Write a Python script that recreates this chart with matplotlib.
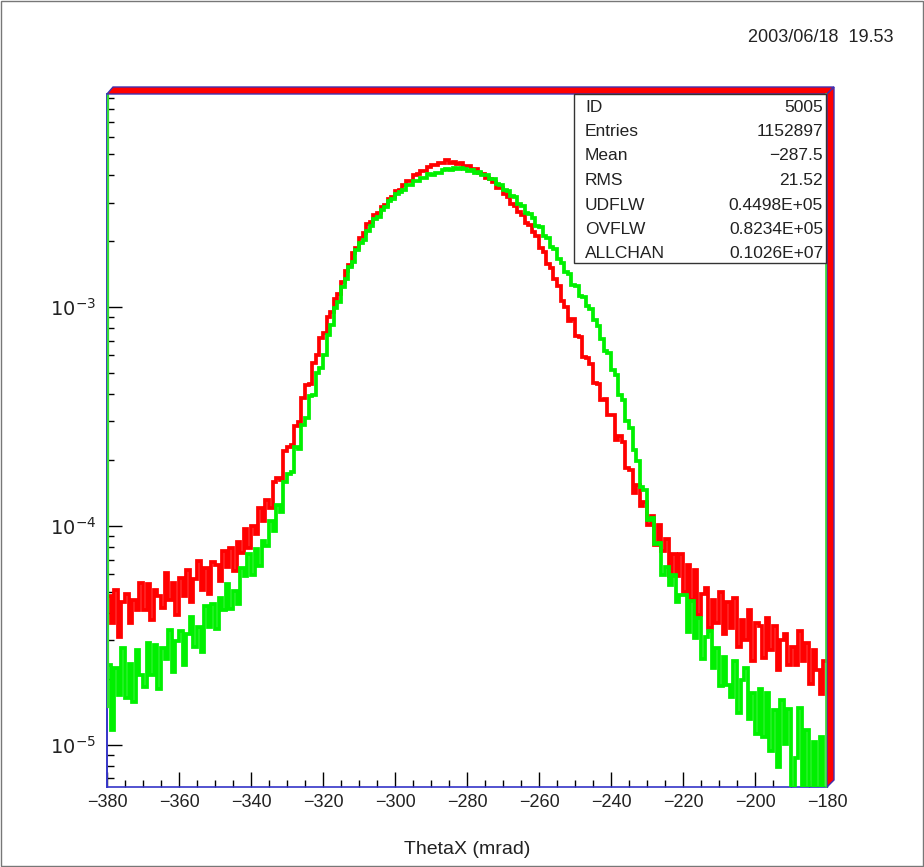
import matplotlib
matplotlib.use("Agg")
import matplotlib.pyplot as plt
from matplotlib.patches import Polygon, Rectangle
from matplotlib.ticker import FixedLocator, LogLocator, NullFormatter, FixedFormatter
import numpy as np

plt.rcParams['font.family'] = ['Liberation Sans', 'DejaVu Sans']

# ---------------- data ----------------
x_edges_start = -380
x_edges_stop = -180
bin_width = 1
scale = 1e-5   # values below are in units of 1e-5

red_vals = [4.8, 3.6, 5.1, 3.1, 4.5, 4.9, 3.6, 4.6, 4.1, 5.5,
            4.1, 5.4, 3.7, 5.1, 4.8, 4.2, 6.1, 4.6, 5.5, 3.9,
            5.8, 4.8, 6.3, 4.5, 5.7, 6.9, 5.1, 6.4, 4.9, 6.8,
            6.6, 5.6, 7.7, 6.5, 7.9, 6.2, 8.4, 7.5, 9.7, 7.9,
            10.0, 9.2, 12.0, 10.5, 13.1, 12.0, 15.8, 16.6, 16.2, 21.9,
            22.9, 23.4, 28.6, 29.9, 38.4, 43.8, 44.5, 55.5, 60.4, 72.4,
            75.7, 89.5, 94.6,
            109, 114, 130, 146, 156, 177, 185, 207, 217, 239,
            244, 264, 269, 287, 292, 313, 318, 338, 342, 362,
            375, 378, 400, 404, 419, 419, 436, 447, 443, 456, 453, 467,
            455, 462, 451, 456, 440, 441, 429, 429, 409, 405, 387, 385,
            373, 351, 348, 327, 318, 295, 289, 271, 262, 241, 236, 219,
            210, 186, 178, 157, 151, 134, 125, 107, 100,
            86.5, 88.1, 73.6, 72.6, 58.9, 58.7, 54.6, 44.7, 44.4, 37.5, 38.1, 32.2,
            32.1, 24.7, 25.8, 24.1, 18.4, 18.0, 14.1, 15.3, 12.3, 12.9, 10.1, 11.1,
            8.2, 10.1, 7.7, 8.7, 5.9, 7.4, 5.9, 7.4, 5.0,
            6.6, 4.6, 6.3, 3.9, 4.9, 5.2, 3.4, 4.6, 3.6, 5.0,
            3.2, 4.5, 3.4, 4.7, 2.8, 3.7, 3.0, 4.1, 2.4, 3.6,
            3.5, 2.5, 3.8, 2.7, 3.5, 2.2, 3.0, 3.2, 2.3, 2.8,
            2.3, 3.3, 2.4, 2.9, 1.9, 2.7, 2.2, 1.7, 2.4]

green_vals = [2.3, 1.17, 2.25, 1.68, 2.75, 1.64, 2.34, 1.57, 2.71, 2.08,
              1.84, 2.9, 2.09, 2.86, 1.8, 2.77, 2.45, 3.33, 2.15, 2.99,
              3.31, 2.31, 3.21, 3.81, 2.78, 3.45, 2.65, 4.28, 3.44, 4.41,
              3.39, 4.66, 4.14, 5.43, 4.15, 5.05, 4.4, 6.38, 5.9, 7.41,
              5.98, 7.8, 6.56, 8.55, 8.07, 10.5, 9.5, 12.4, 11.5, 15.9,
              17.3, 17.7, 22.9, 22.5, 29.0, 31.1, 39.3, 39.4, 49.9, 52.4,
              60.4, 74.3, 82.4, 99.1, 105, 123, 134, 152, 160, 183,
              195, 203, 223, 234, 253, 259, 278, 287, 305, 310, 329, 335,
              343, 359, 362, 378, 376, 388, 390, 403, 400, 411, 409, 424,
              426, 422, 432, 425, 430, 429, 417, 423, 410, 414, 401, 402,
              384, 384, 366, 362, 342, 339, 321, 317, 296, 288, 270, 265,
              255, 235, 232, 212, 206, 188, 184, 165, 158, 144,
              141, 126, 124, 112, 111, 101, 97.5, 86.9, 81.7, 71.0,
              63.0, 61.4, 51.6, 48.8, 39.5, 37.7, 30.1, 28.0, 22.2, 19.7, 15.1,
              14.5, 10.6, 10.8, 8.24, 8.36, 5.98, 6.49, 5.35, 5.93, 4.46, 4.84,
              4.84, 3.27, 4.51, 3.07, 3.79, 2.47, 3.1, 3.3, 2.23, 2.77, 1.85, 2.51, 1.88,
              1.65, 2.4, 1.39, 1.97, 2.25, 1.31, 1.72, 1.12,
              1.79, 1.08, 1.72, 0.93, 1.44, 0.79, 1.6, 1.01, 1.45, 0.63, 0.87, 1.47,
              0.62, 1.16, 0.56, 1.03, 0.49, 1.08, 0.6]

x_ticks = [-380, -360, -340, -320, -300, -280, -260, -240, -220, -200, -180]
y_ticks = [1e-5, 1e-4, 1e-3]
y_ticklabels = [r'$10^{-5}$', r'$10^{-4}$', r'$10^{-3}$']

stats_labels = ['ID', 'Entries', 'Mean', 'RMS', 'UDFLW', 'OVFLW', 'ALLCHAN']
stats_values = ['5005', '1152897', '\u2212287.5', '21.52', '0.4498E+05', '0.8234E+05', '0.1026E+07']
date_text = '2003/06/18  19.53'
xlabel_text = 'ThetaX (mrad)'

# ---------------- figure ----------------
W, H = 924, 867
fig = plt.figure(figsize=(W / 100, H / 100), dpi=100)
fig.patch.set_facecolor('white')

def fx(px):
    return px / W

def fy(py):
    return 1 - py / H

ax_l, ax_r, ax_t, ax_b = 107, 827, 94, 787
ax = fig.add_axes([fx(ax_l), fy(ax_b), fx(ax_r - ax_l), (ax_b - ax_t) / H])

edges = np.arange(x_edges_start, x_edges_stop + bin_width, bin_width)
red = np.array(red_vals) * scale
green = np.array(green_vals) * scale

ax.stairs(red, edges, baseline=None, color='#ff0000', linewidth=2.7, zorder=3)
ax.stairs(green, edges, baseline=None, color='#00f000', linewidth=2.7, zorder=4)

ax.set_yscale('log')
ax.set_xlim(-380, -180)
ax.set_ylim(6.4e-6, 9.4e-3)

ax.xaxis.set_major_locator(FixedLocator(x_ticks))
ax.xaxis.set_minor_locator(FixedLocator(np.arange(-380, -179, 5)))
ax.yaxis.set_major_locator(FixedLocator(y_ticks))
ax.yaxis.set_major_formatter(FixedFormatter(y_ticklabels))
ax.yaxis.set_minor_locator(LogLocator(base=10, subs=np.arange(2, 10), numticks=20))
ax.yaxis.set_minor_formatter(NullFormatter())

ax.tick_params(axis='x', which='major', direction='in', length=11, width=1.0,
               labelsize=13, pad=5, colors='black', labelcolor='#222222',
               top=False)
ax.tick_params(axis='x', which='minor', direction='in', length=5, width=1.0,
               top=False)
ax.tick_params(axis='y', which='major', direction='in', length=11, width=1.0,
               labelsize=14, pad=8, labelcolor='#222222', right=False)
ax.tick_params(axis='y', which='minor', direction='in', length=5, width=1.0,
               right=False)

ax.spines['left'].set_color('#3535c8')
ax.spines['left'].set_linewidth(1.4)
ax.spines['bottom'].set_color('#3535c8')
ax.spines['bottom'].set_linewidth(1.2)
ax.spines['top'].set_visible(False)
ax.spines['right'].set_visible(False)

# green vertical edge over the left axis (histogram frame edge)
fig.add_artist(plt.Line2D([fx(107.5), fx(107.5)], [fy(94), fy(707)], transform=fig.transFigure,
                          color='#33dd33', linewidth=1.6, zorder=6))

# 3D-like frame bands (top and right)
top_band = Polygon([(fx(107), fy(94)), (fx(113), fy(87)), (fx(834), fy(87)), (fx(827), fy(94))],
                   closed=True, transform=fig.transFigure, facecolor='#ff0000',
                   edgecolor='#4030b0', linewidth=1.0, zorder=10)
right_band = Polygon([(fx(827), fy(94)), (fx(834), fy(87)), (fx(834), fy(780)), (fx(827), fy(787))],
                     closed=True, transform=fig.transFigure, facecolor='#ff0000',
                     edgecolor='#4030b0', linewidth=1.0, zorder=10)
fig.add_artist(top_band)
fig.add_artist(right_band)
fig.add_artist(plt.Line2D([fx(826), fx(826)], [fy(94), fy(787)], transform=fig.transFigure,
                          color='#33dd33', linewidth=1.2, zorder=11))

# stats box
box = Rectangle((fx(574), fy(263)), fx(826 - 574), (263 - 94) / H, transform=fig.transFigure,
                facecolor='white', edgecolor='#333333', linewidth=1.0, zorder=12)
fig.add_artist(box)
row_y0, row_dy = 107, 24.5
for i, (lab, val) in enumerate(zip(stats_labels, stats_values)):
    yy = fy(row_y0 + i * row_dy)
    fig.text(fx(585), yy, lab, ha='left', va='center', fontsize=12.5, color='#222222', zorder=13)
    fig.text(fx(823), yy, val, ha='right', va='center', fontsize=12.5, color='#222222', zorder=13)

# date and x label
fig.text(fx(893), fy(38), date_text, ha='right', va='center', fontsize=13, color='#222222')
fig.text(fx(467), fy(849), xlabel_text, ha='center', va='center', fontsize=14, color='#222222')

# outer frame
fig.add_artist(Rectangle((0.001, 0.001), 0.998, 0.998, transform=fig.transFigure,
                         fill=False, edgecolor='#777777', linewidth=1.0))

fig.savefig('out.png', dpi=100)
